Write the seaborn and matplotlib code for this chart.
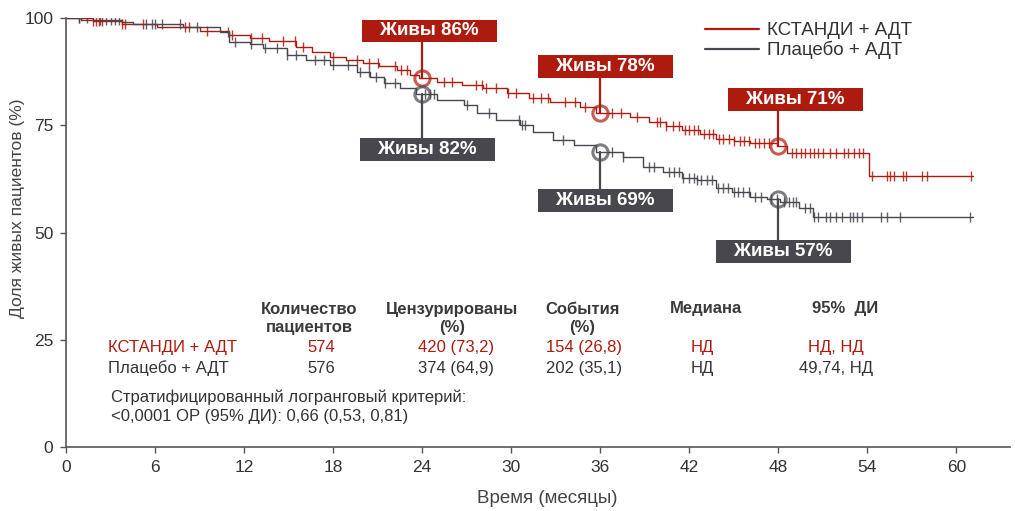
import numpy as np
import pandas as pd
import matplotlib
matplotlib.use("Agg")
import matplotlib.pyplot as plt
from matplotlib.patches import Rectangle
from matplotlib.lines import Line2D
import seaborn as sns

# ---- data (months, % alive) ----
xt_time = [0, 1.8, 3.8, 6.1, 9.0, 11.0, 12.4, 13.7, 15.5, 16.6, 17.8, 18.9, 20.0,
           21.1, 22.3, 23.2, 23.8, 25.0, 26.7, 28.1, 29.7, 31.2, 32.6, 34.6, 35.7,
           38.0, 39.3, 40.4, 41.5, 42.7, 43.8, 45.0, 46.1, 47.9, 48.6, 54.1, 61.1]
xt_surv = [100, 99.3, 98.6, 97.8, 97.0, 96.0, 95.3, 94.5, 93.3, 92.1, 91.0, 90.2,
           89.4, 88.9, 87.9, 86.7, 85.9, 85.0, 84.4, 83.6, 82.4, 81.3, 80.3, 79.3,
           77.8, 77.0, 75.8, 74.9, 73.9, 72.9, 71.9, 71.3, 70.8, 70.2, 68.5, 63.2, 63.2]
pl_time = [0, 1.0, 3.8, 4.5, 7.9, 10.4, 11.0, 12.4, 13.3, 14.9, 16.2, 17.8, 19.6,
           20.5, 21.4, 22.5, 23.6, 25.0, 26.8, 27.7, 29.0, 30.6, 31.5, 32.8, 34.2,
           35.7, 37.5, 38.9, 40.2, 41.5, 42.5, 43.8, 44.9, 46.1, 47.2, 48.1, 49.4,
           50.3, 61.1]
pl_surv = [100, 99.5, 99.1, 98.6, 97.8, 96.8, 94.3, 93.8, 92.9, 91.4, 90.2, 89.0,
           87.5, 86.3, 84.8, 83.6, 82.2, 80.9, 79.7, 77.8, 76.2, 75.1, 73.5, 71.6,
           70.4, 68.8, 67.7, 65.3, 64.2, 62.6, 62.2, 60.3, 59.5, 58.3, 57.9, 57.2,
           55.6, 53.5, 53.5]

xt_cens = [0.9, 1.4, 1.8, 2.0, 2.2, 2.4, 3.8, 4.0, 5.2, 8.0, 8.3, 9.5, 11.2, 12.5,
           13.2, 14.6, 15.4, 16.0, 18.0, 19.6, 20.4, 21.0, 22.2, 22.6, 23.0, 25.5,
           26.0, 27.6, 28.0, 28.3, 29.0, 29.8, 30.3, 31.5, 32.0, 32.5, 33.6, 34.3,
           35.0, 36.8, 37.4, 38.5, 39.8, 40.0, 40.4, 40.9, 41.3, 41.7, 42.0, 42.3,
           42.6, 43.0, 43.3, 43.6, 44.0, 44.3, 44.7, 45.0, 45.4, 45.7, 46.0, 46.4,
           46.7, 47.0, 47.4, 48.9, 49.2, 49.5, 49.8, 50.1, 50.4, 50.7, 51.0, 51.5,
           51.9, 52.4, 52.7, 53.1, 53.4, 53.7, 54.3, 55.3, 55.5, 55.8, 56.4, 56.6,
           57.7, 58.0, 61.0]
pl_cens = [0.9, 2.3, 2.7, 3.0, 3.3, 3.6, 5.4, 5.8, 6.0, 6.5, 7.7, 8.8, 10.9, 11.4,
           12.5, 13.4, 14.2, 14.9, 15.5, 16.8, 17.4, 18.0, 19.0, 19.8, 20.4, 20.9,
           21.5, 22.2, 24.2, 24.5, 24.8, 27.0, 28.5, 30.5, 30.7, 30.9, 33.5, 36.8,
           37.5, 39.3, 39.6, 40.6, 41.0, 41.3, 41.6, 42.0, 42.3, 42.5, 42.8, 43.2,
           43.5, 43.9, 44.3, 44.6, 45.0, 45.3, 45.6, 46.0, 46.4, 46.8, 47.5, 47.9,
           48.4, 48.7, 49.0, 49.2, 49.8, 50.1, 50.4, 50.7, 51.2, 51.5, 51.9, 52.3,
           52.8, 53.0, 53.3, 53.6, 54.9, 55.3, 56.2, 60.9]

series_names = ["КСТАНДИ + АДТ", "Плацебо + АДТ"]

# callouts: (time, value)
xt_marks = [(24, 86), (36, 78), (48, 71)]
pl_marks = [(24, 82), (36, 69), (48, 57)]

table_cols = ["Количество\nпациентов", "Цензурированы\n(%)", "События\n(%)", "Медиана", "95%  ДИ"]
xt_row = ["574", "420 (73,2)", "154 (26,8)", "НД", "НД, НД"]
pl_row = ["576", "374 (64,9)", "202 (35,1)", "НД", "49,74, НД"]
footnote = ["Стратифицированный логранговый критерий:",
            "<0,0001 ОР (95% ДИ): 0,66 (0,53, 0,81)"]

RED = "#ad1a0e"
GRAY = "#47474d"
AXC = "#555555"

sns.set_theme(style="ticks")
plt.rcParams["font.family"] = ["Liberation Sans", "DejaVu Sans"]


def step_value(times, surv, t):
    idx = np.searchsorted(times, t, side="right") - 1
    return np.asarray(surv)[idx]


fig = plt.figure(figsize=(10.15, 5.11), dpi=100)
ax = fig.add_axes([0.065, 0.125, 0.93, 0.84])

curves = [(xt_time, xt_surv, xt_cens, RED), (pl_time, pl_surv, pl_cens, GRAY)]
for (tm, sv, cens, col), name in zip(curves, series_names):
    df = pd.DataFrame({"t": tm, "s": sv})
    sns.lineplot(data=df, x="t", y="s", drawstyle="steps-post", estimator=None,
                 sort=False, color=col, lw=1.0, ax=ax, legend=False)
    cdf = pd.DataFrame({"t": cens, "s": step_value(tm, sv, cens)})
    sns.scatterplot(data=cdf, x="t", y="s", marker="|", s=55, linewidth=1.0,
                    color=col, alpha=0.85, ax=ax, legend=False, zorder=3)

# callouts
box_w, box_h = 9.1, 5.3
xt_boxes = [(19.93, 94.3), (31.8, 86.0), (44.6, 78.3)]
pl_boxes = [(19.8, 66.7), (31.8, 54.8), (43.8, 42.9)]
for k, (marks, boxes, col) in enumerate([(xt_marks, xt_boxes, RED), (pl_marks, pl_boxes, GRAY)]):
    tm, sv = curves[k][0], curves[k][1]
    for (t, v), (bx, by) in zip(marks, boxes):
        yc = step_value(tm, sv, t)
        ytip = by if k == 0 else by + box_h
        ax.plot([t, t], [yc, ytip], color=col, lw=1.6, zorder=4)
        ax.plot(t, yc, marker="o", ms=11, mfc="none", mec=col, mew=2.2, alpha=0.7, zorder=5)
        ax.add_patch(Rectangle((bx, by), box_w, box_h, facecolor=col, edgecolor="none", zorder=6))
        ax.text(bx + box_w / 2, by + box_h / 2, f"Живы {v}%", color="white",
                fontsize=13.5, fontweight="bold", ha="center", va="center", zorder=7)

# table
col_x = [16.4, 26.0, 34.8, 43.1, 52.5]
val_x = [17.2, 26.3, 34.9, 42.9, 51.9]
for cx, head in zip(col_x, table_cols):
    yy = 30.0 if "\n" in head else 32.4
    ax.text(cx, yy, head, ha="center", va="center", fontsize=12, fontweight="bold",
            color="#3a3a3a", linespacing=1.2)
ax.text(2.8, 23.1, series_names[0], color=RED, fontsize=12, va="center")
ax.text(2.8, 18.4, series_names[1], color="#333333", fontsize=12, va="center")
for vx, a, b in zip(val_x, xt_row, pl_row):
    ax.text(vx, 23.1, a, color=RED, fontsize=12, ha="center", va="center")
    ax.text(vx, 18.4, b, color="#333333", fontsize=12, ha="center", va="center")
ax.text(3.0, 11.7, footnote[0], color="#333333", fontsize=12, va="center")
ax.text(3.0, 7.2, footnote[1], color="#333333", fontsize=12, va="center")

# axes styling
ax.set_xlim(0, 63.6)
ax.set_ylim(0, 100)
ax.set_xticks(np.arange(0, 61, 6))
ax.set_yticks([0, 25, 50, 75, 100])
ax.tick_params(axis="both", colors=AXC, labelcolor="#333333", labelsize=12.5,
               length=4, width=1, pad=5)
for sp in ["top", "right"]:
    ax.spines[sp].set_visible(False)
for sp in ["left", "bottom"]:
    ax.spines[sp].set_color(AXC)
    ax.spines[sp].set_linewidth(1.2)
ax.set_xlabel("Время (месяцы)", fontsize=13.5, color="#444444")
ax.set_ylabel("Доля живых пациентов (%)", fontsize=12.5, color="#444444")
ax.xaxis.set_label_coords(0.51, -0.10)
ax.yaxis.set_label_coords(-0.043, 0.557)

handles = [Line2D([], [], color=RED, lw=1.6), Line2D([], [], color=GRAY, lw=1.6)]
ax.legend(handles, series_names, loc="upper left", bbox_to_anchor=(0.677, 0.99),
          frameon=False, fontsize=13.5, handlelength=2.9, handletextpad=0.4,
          labelspacing=0.08, borderaxespad=0, borderpad=0, labelcolor="#333333")

fig.savefig("out.png", dpi=100)
